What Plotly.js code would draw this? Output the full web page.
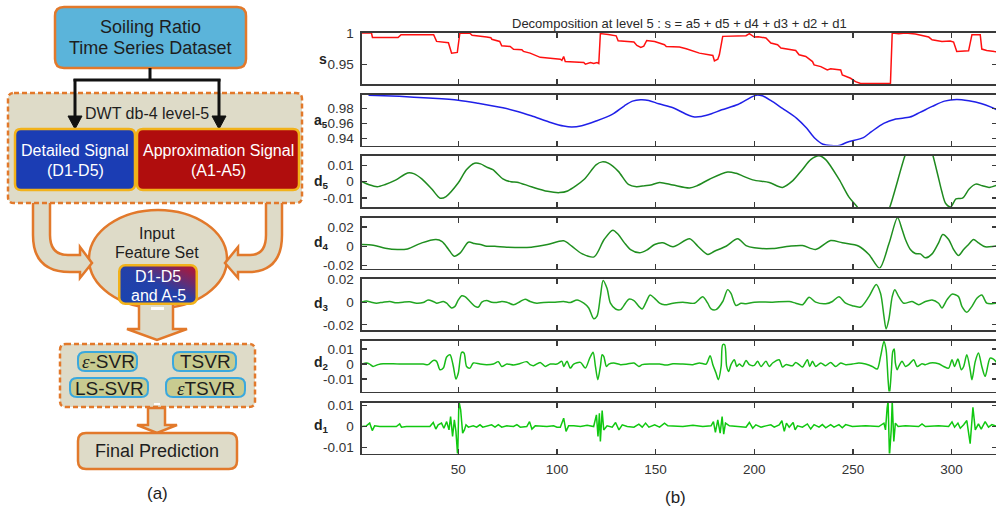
<!DOCTYPE html>
<html><head><meta charset="utf-8">
<script src="https://cdn.plot.ly/plotly-3.0.1.min.js"></script>
<style>html,body{margin:0;padding:0;overflow:hidden;background:#fff;width:996px;height:508px}#chart{width:1000px;height:508px}</style>
</head><body><div id="chart"></div>
<script>
// ---------------- DATA ----------------
const xTickVals = [50, 100, 150, 200, 250, 300];
const xTickText = ['50', '100', '150', '200', '250', '300'];

const sX = [1,6,6.5,19.5,21,37.5,39,44,45,46.6,49.5,50.8,55.9,57,59.3,61.9,63,64.4,66.5,67,71,72,76.3,78,82.2,83,86.4,88,91.5,96.6,101.7,102.5,103.4,104.2,108.5,113.6,114.4,117,118.6,120.3,121.2,122,126,130,131,139,140.5,142.5,144,145.5,149.5,154.5,155.4,162.1,165.5,172.2,179,179.8,181.5,182.3,184,195.8,197.5,200,202,205.9,208.4,211.8,213.5,221,222.7,226.1,229.5,230.3,233.7,237,238.7,243.8,244.6,248.8,251.3,253.9,269,269.9,273.2,276.6,281.6,288.4,290.1,295.1,299.3,301,302.6,308.6,310.3,314.5,315.3,317.8,321.7,323];
const sY = [1.0,1.0,0.9929,0.9929,0.9973,0.9973,0.9865,0.985,0.9845,0.9677,0.9688,1.0,0.9995,0.9962,0.9956,0.9945,0.9935,0.9935,0.9925,0.990,0.9865,0.9795,0.9784,0.974,0.973,0.9705,0.9677,0.9655,0.961,0.9597,0.958,0.956,0.9623,0.9542,0.9535,0.9526,0.950,0.9526,0.951,0.9526,0.951,0.999,0.9975,0.9955,0.9875,0.9855,0.980,0.977,0.979,0.988,0.9865,0.9811,0.9784,0.9774,0.9747,0.9677,0.964,0.9553,0.958,0.965,0.9946,0.9957,0.9989,0.9935,0.994,0.992,0.9839,0.9811,0.9758,0.972,0.965,0.9623,0.9542,0.9489,0.9461,0.9408,0.9425,0.9408,0.9327,0.9274,0.922,0.919,0.919,1.0,0.9989,1.0,0.9984,0.9935,0.9892,0.9865,0.9871,0.9855,0.9703,0.9714,0.9973,0.9973,0.9742,0.972,0.9703,0.970];

const a5X = [4.5,20,35,50,60,72.6,80,87,97.2,103.4,107.5,112.6,119.8,128,134.2,138.3,142.4,146.5,151.6,158.8,165,169.1,173.2,178.3,183.5,191.7,197.8,200.9,204,208.1,214.3,221.5,226.6,230.7,234.8,238.9,243,247.1,255.3,259.4,265.6,271.7,278.9,284,290.2,296.4,302.6,308.7,314.9,320,323];
const a5Y = [0.9978,0.9962,0.9940,0.9911,0.9870,0.9809,0.9760,0.9702,0.9609,0.9564,0.9551,0.9569,0.9631,0.9720,0.9836,0.9898,0.9916,0.9907,0.9862,0.9809,0.9729,0.9689,0.9693,0.9729,0.9782,0.9853,0.9942,0.9978,0.9969,0.9911,0.9800,0.9667,0.9533,0.9400,0.9320,0.9302,0.9302,0.9347,0.9409,0.9489,0.9600,0.9658,0.9684,0.9747,0.9827,0.9898,0.9920,0.9902,0.9867,0.9818,0.9780];

const d5X = [1,4.8,8.9,13,18.2,24.3,27.4,31.5,36.7,40.8,43.8,50,54.1,58.2,61.3,64.4,67.5,72.6,76.7,79.8,87,95.2,101.3,105.4,113.7,119.8,122.9,126,131.1,136.2,140.3,144.5,147.5,152,158.8,167.2,171,177.3,186.5,190.7,199.2,207.6,214.3,219.4,224.4,228.6,232.8,236.2,242.9,248,252.2,256,261,265,268.7,276.3,280,284,288,290.6,293,295,297,299.5,302.2,305.5,308.9,312.2,315.6,319,323];
const d5Y = [0,-0.002,-0.0032,-0.0018,0.0008,0.0052,0.0048,0.0016,-0.0048,-0.0102,-0.0092,-0.0008,0.0072,0.0112,0.0108,0.0088,0.0072,0.0016,-0.0002,-0.0004,-0.0032,-0.006,-0.0068,-0.0058,0.0012,0.0102,0.012,0.0112,0.0062,-0.0018,-0.0032,-0.0026,-0.0022,-0.0006,-0.0022,-0.004,-0.0026,0.0014,0.0058,0.005,0.001,-0.0006,-0.0036,0.0004,0.0074,0.0134,0.0158,0.0134,0.0014,-0.0096,-0.0156,-0.024,-0.03,-0.026,-0.0156,0.0156,0.027,0.032,0.026,0.0156,0.004,-0.006,-0.0135,-0.0156,-0.0106,-0.0102,-0.0046,-0.0016,-0.0026,-0.0036,-0.0022];

const d4X = [1,6.9,13,19.2,24.3,31.5,38.7,41.8,44.9,47.9,51,55.1,58.2,61.3,64.4,68.5,74.6,87,95.2,103.4,107.5,112.6,118.8,123.9,128.3,131.1,134.2,137.3,141.9,145.5,149.5,153.7,158.8,167.2,171.4,176.4,179.8,185.7,191.6,195.8,200,209.3,217.7,224.4,231.1,238.7,244.6,253,258.1,263.5,268.3,272.6,274.9,276.6,279.1,281.6,284.2,286.7,290.1,293.4,295.5,298.5,301,303.5,306.1,308.6,311.1,313.6,317,321.7,323];
const d4Y = [0.0017,0.001,-0.0021,-0.0035,-0.0028,0.0035,0.007,0.0049,-0.0028,-0.0104,-0.007,0.0042,0.0028,0.0017,0,0,-0.001,-0.001,0.0017,0.0056,0,-0.0077,-0.0111,0.007,0.0167,0.0122,0.0035,-0.0035,-0.0069,-0.004,0.0018,0.0035,-0.0006,0.0077,0,-0.0086,-0.0052,0,0.0077,0.0007,-0.0017,-0.0024,0,0.0007,-0.0034,0.0059,0.0035,0,-0.0086,-0.0228,0.003,0.0298,0.0174,0.007,-0.0034,-0.0076,-0.008,-0.0121,-0.008,0.0035,0.0122,0.007,-0.0034,-0.0097,-0.0034,0.0018,0.007,0.0035,-0.0006,0,0.0002];

const d3X = [1,3.4,5.9,8.5,11.9,15.3,18.6,22,25.4,28.8,32.2,34.7,37.3,39,42.4,44.1,46.6,48.3,50,51.7,53.4,55.9,58.5,60.2,61.9,64.4,66.9,69.5,72,74.6,78,81.4,83.9,86.4,89.8,93.2,98.3,103.4,106.8,110.2,113.6,116.1,118.6,120.3,122,123.4,125.4,127.1,129.7,132.2,134.7,136.4,139,141.5,143.2,145.3,147.2,149.5,152,154.5,158.8,163.8,169.7,173.9,176.4,178.1,180.6,184,186.5,188.2,190.7,193.3,195.8,200,209.3,217.7,221,224.4,227.8,231.1,236.2,239.6,242.9,246.3,249.7,253.9,258.1,261.8,264,265.7,266.8,268.2,269.9,271.2,273.2,275.8,280,283.3,286.7,290.1,293.4,295.1,297.6,300.2,303.5,305.2,307.7,310.3,312.8,315.3,317.8,320.4,323];
const d3Y = [0,0.0011,0,-0.0009,0,0.0006,-0.0006,0,0.0003,-0.0009,-0.0003,0.002,0.0006,-0.0009,0.0006,-0.0009,-0.0051,-0.0037,0.002,0.0057,0.0049,0.0006,-0.0037,-0.0043,0,0.0014,0,-0.0003,0.0006,0,-0.0023,0.0006,0.0026,0.0006,-0.0009,-0.0003,0,0.0006,-0.0003,0.002,-0.0009,-0.0051,-0.0146,-0.0123,0.0049,0.0192,0.012,-0.0009,-0.006,-0.0066,-0.0009,0.0026,0.0014,-0.0037,-0.006,0.0005,0.0063,0.0034,-0.0009,-0.0023,-0.0009,0,-0.0009,0.0049,-0.0009,-0.006,-0.0066,0.0006,0.0111,0.0077,-0.0029,-0.0009,-0.0014,0,0,0.0006,-0.0009,-0.0023,0.0043,0,-0.0014,0.0006,0.0049,-0.0009,-0.0031,-0.0043,0.0049,0.0157,0.0077,-0.0123,-0.0237,-0.0152,0.0049,0.0111,0.0049,-0.0009,0.0006,-0.0023,0.0006,0.002,-0.0009,-0.0051,0.002,0.0071,0.0049,-0.0037,-0.0089,-0.0037,0.0034,0.0063,-0.0009,-0.0014,-0.0009];

const d2X = [1,3.4,5.1,6.8,9.3,11.9,20.3,32.2,34.7,37.3,39,40.7,42.4,44.1,45.8,47.5,48.8,50,51.7,52.9,54.2,55.9,57.6,61,64.4,67.8,70.3,72,74.6,78,80.5,84.7,86.4,88.1,91.5,94.1,96.6,100,102.5,103.4,105.1,106.8,108.5,111.9,114.4,116.6,118.3,119.5,120.7,122,122.9,123.7,125.1,126.3,128.8,132.2,135.6,139,141.5,143.2,147.5,152,155.4,158.8,163.8,168.9,172.2,175.6,177.6,179,180.6,181.8,183.2,184,185,186,187,188.2,189.9,191.1,192.4,194.1,195.8,197.5,200,201.7,203.4,205.9,207.6,209.3,212.6,214.3,216,219.4,221,222.7,224.4,226.9,228.1,229.5,231.1,233.7,236.2,238.7,241.2,243.8,246.3,249.7,253,256.4,259.8,262.3,264,265.7,266.8,267.8,268.5,269.5,270.2,270.9,271.5,272.4,273.2,274.9,276.6,278.3,280.8,282.5,285,286.7,289.2,293.4,296,298.5,300.2,301.5,303.2,304.9,306.1,307.7,309.4,310.3,312,313.6,315.3,317,319.5,321.2,323];
const d2Y = [0,0.0007,0,-0.0016,-0.0004,0.0002,0,0,-0.0004,0.0024,0.0018,-0.0038,-0.0027,0.0047,0.0062,-0.0016,-0.01,-0.006,0.0078,0.0073,-0.0016,-0.0027,0.0007,0,-0.0004,0,0.0016,-0.0016,0,-0.0007,0,0.0016,-0.0004,-0.0011,0.0011,-0.0016,0,0,0.0018,-0.0016,0.0018,-0.0027,0,0.0011,-0.0027,0.004,0.0078,-0.0016,-0.0104,-0.0016,0.0062,0.0051,-0.0016,0,0.0007,-0.0004,0,0.0007,-0.0016,-0.0004,0,0,-0.0007,0.0002,0,-0.0004,0.0007,0,0.0056,-0.0004,-0.006,-0.0104,-0.0016,0.0129,0.0129,-0.0016,-0.0049,-0.0004,0.0029,-0.0016,0,-0.0016,0.0024,-0.0004,-0.0009,0.0018,-0.0016,0.0018,-0.0016,0.0007,0.0029,-0.002,-0.0004,-0.0011,0.0011,-0.0004,-0.002,0.0029,-0.0016,0.0018,-0.0016,0.0007,-0.0011,0.0011,-0.0016,0.0007,-0.0004,0,0.0007,0,-0.0016,-0.0033,0.0051,0.0151,0.0095,-0.0104,-0.0204,-0.0038,0.0084,0.01,0.0007,-0.0038,-0.0016,0.0018,-0.0016,-0.0004,0.0029,-0.0016,0.0002,-0.0004,0.0007,0.0002,-0.0016,-0.0027,0.0029,-0.0016,0.0033,-0.0038,-0.0016,0.0062,-0.0038,-0.0104,0.0018,0.0073,-0.0016,-0.0082,0.004,0.0033,0.0007];

const d1X = [1,3.4,5.1,6.4,7.6,10.2,18.6,20.3,21.2,23.7,35.6,37.3,38.6,39.8,41.5,42.7,44.1,45.3,46.1,47.1,48,48.8,49.7,50.3,51.2,52.2,53.1,53.9,55.1,57.6,59.3,61,62.4,64.4,66.9,68.6,70.3,72,74.6,78,79.7,81.4,84.7,86.1,87.3,89,94.9,98.3,100,101.7,103.4,104.6,105.9,108.5,111.9,115.3,118.6,120,120.8,121.5,122,122.9,123.7,125.4,128,129.7,131.4,133.1,135.6,139,141.5,143.2,144.9,146.6,149.5,152,154.5,156.2,158.8,163.8,168.9,173.9,178.1,179.3,180.3,181.5,182.7,183.7,184.5,185.4,187.4,190.7,195.8,197.5,199.2,200.8,203.4,205.9,208.4,210.1,212.6,214,215.2,216.3,217.7,219.7,220.7,221.9,224.4,226.9,228.6,230.3,232.8,234.5,236.2,238.7,240.4,242.9,244.6,246.3,249.7,256.4,263.1,265.7,266.5,267.3,267.8,268.5,269.4,269.9,270.7,271.5,272.9,276.6,283.3,285,286.7,293.4,298.5,300.2,301.5,303.2,304.4,306.1,307.7,309.4,310.8,312,313.6,315,317,318.7,320.4,323];
const d1Y = [0,0.0003,0.0016,-0.0019,0.0003,0,0,0.0012,-0.0003,0,0,0.0019,-0.0012,0.0008,0.0016,-0.0008,0.0023,-0.0016,0.0047,-0.0047,0.0031,-0.0023,-0.014,0.012,0.0078,-0.0031,-0.0016,0.0008,-0.0003,0.0003,-0.0003,0.0008,-0.0003,0.0003,0.0008,-0.0003,0.0009,-0.0003,0.0003,0,0.0009,-0.0003,0,0.0023,-0.0012,0.0003,0,0.0003,-0.0003,-0.0003,0.0039,-0.0023,0.0003,0.0003,0,0.0006,0,0.0055,-0.0047,0.0062,-0.007,0.0075,-0.0016,0.0003,-0.0003,0.0019,-0.0016,0.0008,0,-0.0003,0.0011,-0.0003,0.0016,-0.0003,0.0008,-0.0003,0.0016,0.0003,0.0003,0,0.0006,0,0.0003,0.0023,-0.0028,0.0031,-0.0031,0.0047,-0.0036,0.0016,0.0003,0,-0.0003,0.0019,-0.0008,0.0008,-0.0003,0.0003,0.0008,-0.0003,0.0008,0.0027,-0.0023,0.0016,-0.0003,0.0019,-0.0016,0.0003,-0.0003,0.0012,-0.0012,0.0009,-0.0003,0.0009,-0.0006,0.0009,-0.0003,0.0009,-0.0006,0.0009,0,0.0003,0,0.0016,-0.0016,0.0086,0.012,-0.014,-0.0016,0.012,-0.007,0.0016,0,0.0003,0,0.0012,0,0.0003,0,0.0022,-0.0003,0.0016,-0.0008,0.0008,0.0028,-0.0081,0.009,-0.0016,0.0012,-0.0012,0.0023,-0.0003,0.0009,0];

const sTickVals = [0.95, 1];          const sTickText = ['0.95', '1'];
const a5TickVals = [0.94, 0.96, 0.98]; const a5TickText = ['0.94', '0.96', '0.98'];
const d5TickVals = [-0.01, 0, 0.01];   const d5TickText = ['-0.01', '0', '0.01'];
const d4TickVals = [-0.02, 0, 0.02];   const d4TickText = ['-0.02', '0', '0.02'];
const d3TickVals = [-0.02, 0, 0.02];   const d3TickText = ['-0.02', '0', '0.02'];
const d2TickVals = [-0.01, 0, 0.01];   const d2TickText = ['-0.01', '0', '0.01'];
const d1TickVals = [-0.01, 0, 0.01];   const d1TickText = ['-0.01', '0', '0.01'];

// ---------------- LAYOUT ----------------
const W = 1000, H = 508;
const FONT = 'Liberation Sans, Arial, Helvetica, sans-serif';
const panelTops = [33, 94.5, 156, 217.5, 279, 340.5, 402.5];
const panelH = 51;
const xDom = [362 / W, 997 / W];

const panels = [
  {x: sX, y: sY, color: '#ff1010', range: [0.9182, 1.0], tv: sTickVals, tt: sTickText, shape: 'linear', lbl: '<b>s</b>', lx: 329, ly: 59},
  {x: a5X, y: a5Y, color: '#2020e8', range: [0.9303, 0.9987], tv: a5TickVals, tt: a5TickText, shape: 'spline', lbl: '<b>a</b><sub><b>5</b></sub>', lx: 330, ly: 121},
  {x: d5X, y: d5Y, color: '#1f8a1f', range: [-0.0156, 0.0156], tv: d5TickVals, tt: d5TickText, shape: 'spline', lbl: '<b>d</b><sub><b>5</b></sub>', lx: 331, ly: 182},
  {x: d4X, y: d4Y, color: '#1f8f1f', range: [-0.0232, 0.0299], tv: d4TickVals, tt: d4TickText, shape: 'spline', lbl: '<b>d</b><sub><b>4</b></sub>', lx: 331, ly: 243},
  {x: d3X, y: d3Y, color: '#22a522', range: [-0.0246, 0.0205], tv: d3TickVals, tt: d3TickText, shape: 'spline', lbl: '<b>d</b><sub><b>3</b></sub>', lx: 331, ly: 304},
  {x: d2X, y: d2Y, color: '#18bb18', range: [-0.0183, 0.0157], tv: d2TickVals, tt: d2TickText, shape: 'spline', lbl: '<b>d</b><sub><b>2</b></sub>', lx: 331, ly: 363},
  {x: d1X, y: d1Y, color: '#10c810', range: [-0.0127, 0.0113], tv: d1TickVals, tt: d1TickText, shape: 'linear', lbl: '<b>d</b><sub><b>1</b></sub>', lx: 331, ly: 426}
];

const traces = [];
const layout = {
  width: W, height: H,
  margin: {l: 0, r: 0, t: 0, b: 0},
  paper_bgcolor: '#ffffff', plot_bgcolor: 'rgba(0,0,0,0)',
  showlegend: false,
  font: {family: FONT, color: '#2a2a2a'},
  shapes: [], annotations: [], images: []
};

panels.forEach((p, i) => {
  const n = i === 0 ? '' : String(i + 1);
  traces.push({
    type: 'scatter', mode: 'lines', x: p.x, y: p.y,
    xaxis: 'x' + n, yaxis: 'y' + n, hoverinfo: 'skip',
    line: {color: p.color, width: 1.5, shape: p.shape, smoothing: 0.8}
  });
  const top = panelTops[i];
  layout['xaxis' + n] = {
    domain: xDom, anchor: 'y' + n, range: [1.2, 323],
    tickmode: 'array', tickvals: xTickVals, ticktext: xTickText,
    ticks: 'inside', ticklen: 5, tickwidth: 1.3, tickcolor: '#3a3a3a',
    showline: true, linecolor: '#3a3a3a', linewidth: 1.6, mirror: 'allticks',
    showgrid: false, zeroline: false, showticklabels: i === 6,
    ticklabelstandoff: 3,
    tickfont: {family: FONT, size: 13.5, color: '#333'}, fixedrange: true
  };
  layout['yaxis' + n] = {
    domain: [1 - (top + panelH) / H, 1 - top / H], anchor: 'x' + n, range: p.range,
    tickmode: 'array', tickvals: p.tv, ticktext: p.tt,
    ticks: 'inside', ticklen: 5, tickwidth: 1.3, tickcolor: '#3a3a3a',
    showline: true, linecolor: '#3a3a3a', linewidth: 1.6, mirror: 'allticks',
    showgrid: false, zeroline: false, ticklabelstandoff: 4,
    tickfont: {family: FONT, size: 13.5, color: '#333'}, fixedrange: true
  };
  layout.annotations.push({xref: 'x8', yref: 'y8', x: p.lx, y: p.ly, xanchor: 'right', yanchor: 'middle',
    text: p.lbl, showarrow: false, font: {family: FONT, size: 14, color: '#222'}});
});

// pixel-coordinate helper axes for the flowchart and free text
traces.push({type: 'scatter', mode: 'markers', x: [], y: [], xaxis: 'x8', yaxis: 'y8', hoverinfo: 'skip'});
layout.xaxis8 = {domain: [0, 1], range: [0, W], visible: false, fixedrange: true, anchor: 'y8'};
layout.yaxis8 = {domain: [0, 1], range: [H, 0], visible: false, fixedrange: true, anchor: 'x8'};

function rr(x0, y0, x1, y1, r) {
  return `M${x0 + r},${y0} L${x1 - r},${y0} Q${x1},${y0} ${x1},${y0 + r} L${x1},${y1 - r} Q${x1},${y1} ${x1 - r},${y1} L${x0 + r},${y1} Q${x0},${y1} ${x0},${y1 - r} L${x0},${y0 + r} Q${x0},${y0} ${x0 + r},${y0} Z`;
}
const OR = '#e2792b', BEIGE = '#dedbc8';
function shp(path, fill, lc, lw, dash) {
  layout.shapes.push({type: 'path', xref: 'x8', yref: 'y8', layer: 'below', path: path,
    fillcolor: fill, line: {color: lc, width: lw, dash: dash || 'solid'}});
}
function ann(x, y, text, size, color, extra) {
  layout.annotations.push(Object.assign({xref: 'x8', yref: 'y8', x: x, y: y, text: text, showarrow: false,
    xanchor: 'center', yanchor: 'middle', font: {family: FONT, size: size, color: color || '#1e1e1e'}}, extra || {}));
}

// top box
shp(rr(55, 7, 246, 68, 9), '#5bb4da', OR, 2.5);
// ellipse
layout.shapes.push({type: 'circle', xref: 'x8', yref: 'y8', layer: 'below', x0: 89, x1: 227, y0: 210, y1: 308,
  fillcolor: BEIGE, line: {color: OR, width: 2.5}});
// curved wide arrows
shp('M33,198 L33,235 Q33,272 70,272 L80,272 L80,278 L92,263 L80,247 L80,255 L68,255 Q50,255 50,235 L50,198 Z', BEIGE, OR, 2.5);
shp('M282,198 L282,235 Q282,272 248,272 L238,272 L238,278 L225,263 L238,247 L238,255 L250,255 Q266,255 266,235 L266,198 Z', BEIGE, OR, 2.5);
// DWT dashed container
shp(rr(8, 93, 302, 203, 6), BEIGE, OR, 2.5, '5px,3px');
// black connector lines + heads (over the container)
shp('M150,68 L150,80', 'rgba(0,0,0,0)', '#111', 3);
shp('M73.5,80 L220.5,80', 'rgba(0,0,0,0)', '#111', 3);
shp('M75,79 L75,118', 'rgba(0,0,0,0)', '#111', 3);
shp('M219,79 L219,118', 'rgba(0,0,0,0)', '#111', 3);
shp('M68,116 L82,116 L75,129 Z', '#111', '#111', 1);
shp('M212,116 L226,116 L219,129 Z', '#111', '#111', 1);
// detailed / approximation boxes
shp(rr(15, 129, 135, 190, 6), '#1b3db4', '#f2b21a', 2.5);
shp(rr(137, 129, 299, 190, 6), '#b00d0d', '#f2b21a', 2.5);
// down arrow 1
shp('M139,303 L139,329 L127,329 L157,340 L187,329 L173,329 L173,303 Z', BEIGE, OR, 2.5);
shp('M151,308.5 L164,308.5', 'rgba(0,0,0,0)', '#ffffff', 3);
// model container
shp(rr(60, 344, 255, 407, 6), BEIGE, OR, 2.5, '5px,3px');
// down arrow 2
shp('M148,408 L148,425 L137,425 L157,433 L177,425 L165,425 L165,408 Z', BEIGE, OR, 2.5);
shp('M154,404 L160,404', 'rgba(0,0,0,0)', '#ffffff', 2);
// final box
shp(rr(78, 433, 237, 469, 8), BEIGE, OR, 2.5);
// pills
const PILL = '#c8cb90', PB = '#3aa8de';
shp(rr(78, 352, 137, 371, 7), PILL, PB, 2);
shp(rr(173, 352, 236, 371, 7), PILL, PB, 2);
shp(rr(70, 378, 148, 397, 7), PILL, PB, 2);
shp(rr(166, 378, 245, 397, 7), PILL, PB, 2);

// gradient box as svg image
const gsvg = '<svg xmlns="http://www.w3.org/2000/svg" width="80" height="41" viewBox="0 0 80 41"><defs><linearGradient id="g" x1="0" y1="1" x2="1" y2="0"><stop offset="0" stop-color="#1a44b0"/><stop offset="0.5" stop-color="#2440a8"/><stop offset="1" stop-color="#c0122a"/></linearGradient></defs><rect x="1.25" y="1.25" width="77.5" height="38.5" rx="6" ry="6" fill="url(#g)" stroke="#f2b21a" stroke-width="2.5"/></svg>';
layout.images.push({source: 'data:image/svg+xml;utf8,' + encodeURIComponent(gsvg), xref: 'paper', yref: 'paper',
  x: 118 / W, y: 1 - 264 / H, sizex: 80 / W, sizey: 41 / H, xanchor: 'left', yanchor: 'top', sizing: 'stretch', layer: 'above'});

// flowchart texts
ann(150, 27, 'Soiling Ratio', 18);
ann(150, 48, 'Time Series Dataset', 18);
ann(147, 113, 'DWT db-4 level-5', 16);
ann(75, 150, 'Detailed Signal', 16, '#ffffff');
ann(75, 170, '(D1-D5)', 16, '#ffffff');
ann(218, 150, 'Approximation Signal', 16, '#ffffff');
ann(218, 170, '(A1-A5)', 16, '#ffffff');
ann(157, 233, 'Input', 16);
ann(157, 252, 'Feature Set', 16);
ann(158, 276, 'D1-D5', 16, '#ffffff');
ann(158, 295, 'and A-5', 16, '#ffffff');
ann(108, 361, '<span style="font-family:Liberation Serif"><i>ε</i></span>-SVR', 19);
ann(205, 361, 'TSVR', 19);
ann(109, 388, 'LS-SVR', 19);
ann(206, 388, '<span style="font-family:Liberation Serif"><i>ε</i></span>TSVR', 19);
ann(157, 451, 'Final Prediction', 18);
ann(157, 493, '(a)', 17);
ann(675, 497, '(b)', 17);
ann(679.5, 23, 'Decomposition at level 5 : s = a5 + d5 + d4 + d3 + d2 + d1', 13, '#2a2a2a');

Plotly.newPlot('chart', traces, layout, {staticPlot: true, displayModeBar: false});
</script>
</body></html>
